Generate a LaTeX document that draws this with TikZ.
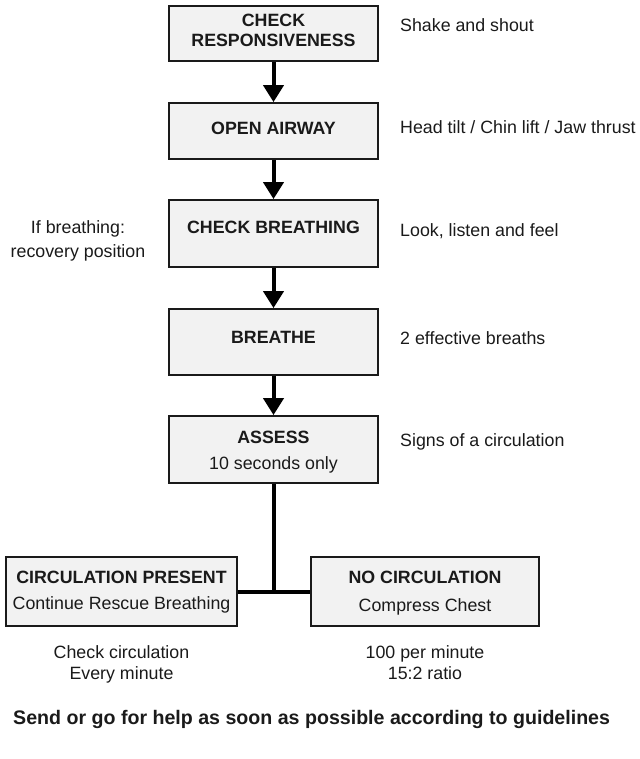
\documentclass[tikz,border=0pt]{standalone}
\usepackage{fontspec}
\setmainfont{Liberation Sans}
\usetikzlibrary{arrows.meta}
\definecolor{boxfill}{HTML}{F2F2F2}
\definecolor{ink}{HTML}{1A1A1A}
\tikzset{
  stepbox/.style={draw=ink, line width=1.8pt, fill=boxfill, rectangle, inner sep=0pt},
  txt/.style={inner sep=0pt, text=ink, font=\fontsize{17.8}{20}\selectfont, text height=12.7pt, text depth=0pt},
  head/.style={txt, font=\fontsize{17.8}{20}\selectfont\bfseries},
  note/.style={txt, anchor=west},
  flow/.style={line width=4pt, draw=black, -{Triangle[length=17pt, width=20pt]}},
  link/.style={line width=4pt, draw=black},
}
\begin{document}
\begin{tikzpicture}[x=1pt, y=-1pt]
\useasboundingbox (0,0) rectangle (639,759);

% main column of steps
\node[stepbox, minimum width=209pt, minimum height=55pt] (b1) at (273.5,33.5) {};
\node[stepbox, minimum width=209pt, minimum height=56pt] (b2) at (273.5,131) {};
\node[stepbox, minimum width=209pt, minimum height=67pt] (b3) at (273.5,233.5) {};
\node[stepbox, minimum width=209pt, minimum height=66pt] (b4) at (273.5,342) {};
\node[stepbox, minimum width=209pt, minimum height=67pt] (b5) at (273.5,449.5) {};

% outcome boxes
\node[stepbox, minimum width=231pt, minimum height=69pt] (lb) at (121.5,591.5) {};
\node[stepbox, minimum width=228pt, minimum height=69pt] (rb) at (425,591.5) {};

% box texts
\node[head] (t1a) at (273.5,20) {CHECK};
\node[head] (t1b) at (273.5,40) {RESPONSIVENESS};
\node[head] (t2) at (273.5,128) {OPEN AIRWAY};
\node[head] (t3) at (273.5,227) {CHECK BREATHING};
\node[head] (t4) at (273.5,337) {BREATHE};
\node[head] (t5a) at (273.5,437) {ASSESS};
\node[txt] (t5b) at (273.5,463) {10 seconds only};
\node[head] (tla) at (121.5,577) {CIRCULATION PRESENT};
\node[txt] (tlb) at (121.5,603) {Continue Rescue Breathing};
\node[head] (tra) at (425,577) {NO CIRCULATION};
\node[txt] (trb) at (425,605) {Compress Chest};

% side notes
\node[note] (n1) at (400,25) {Shake and shout};
\node[note] (n2) at (400,127) {Head tilt / Chin lift / Jaw thrust};
\node[note] (n3) at (400,230) {Look, listen and feel};
\node[note] (n4) at (400,338) {2 effective breaths};
\node[note] (n5) at (400,440) {Signs of a circulation};
\node[txt] (l1) at (78,227) {If breathing:};
\node[txt] (l2) at (78,251) {recovery position};

% notes under the outcomes
\node[txt] (u1) at (121.5,652) {Check circulation};
\node[txt] (u2) at (121.5,673) {Every minute};
\node[txt] (u3) at (425,652) {100 per minute};
\node[txt] (u4) at (425,673) {15:2 ratio};

% footer
\node[head, anchor=west, font=\fontsize{19.6}{22}\selectfont\bfseries, text height=14pt] (foot) at (13,717) {Send or go for help as soon as possible according to guidelines};

% connectors
\draw[flow] (b1.south) -- (b2.north);
\draw[flow] (b2.south) -- (b3.north);
\draw[flow] (b3.south) -- (b4.north);
\draw[flow] (b4.south) -- (b5.north);
\coordinate (j) at (b5.south |- lb.east);
\draw[link] (b5.south) -- (j);
\draw[link] (lb.east) -- (rb.west);
\end{tikzpicture}
\end{document}
